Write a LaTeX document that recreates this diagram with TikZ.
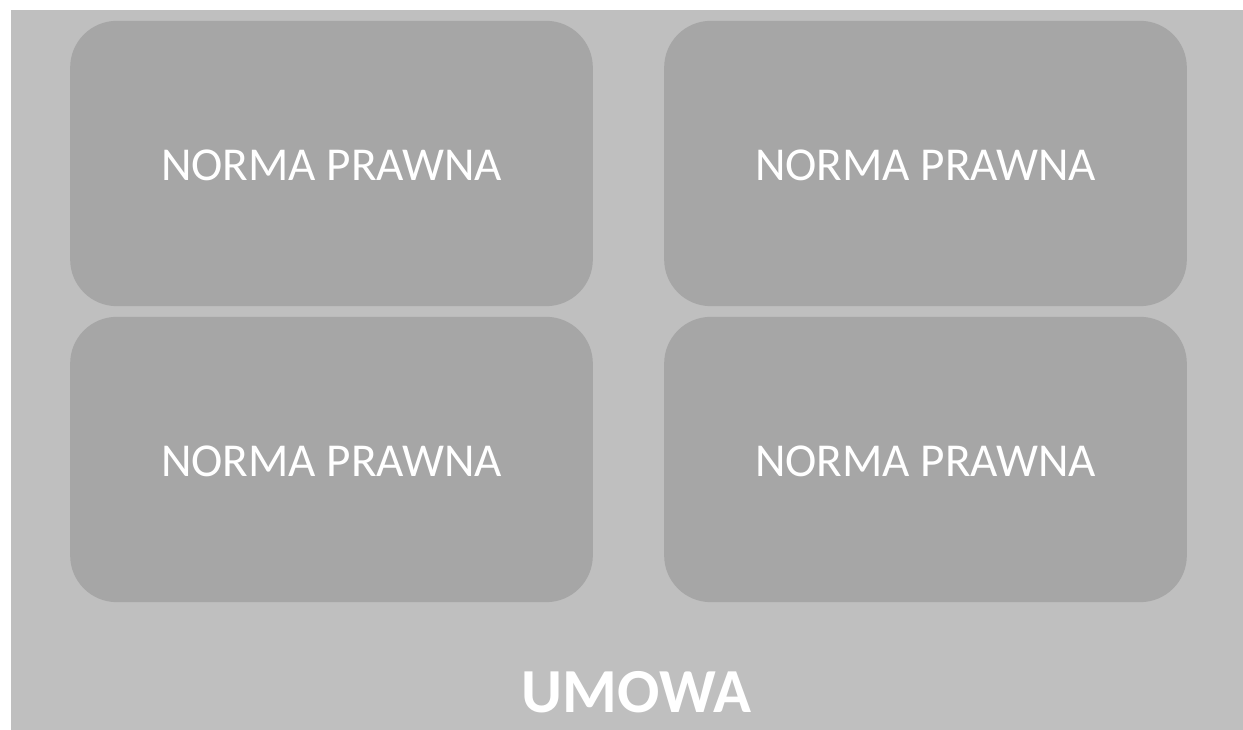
\documentclass[tikz,border=0pt]{standalone}
\usepackage{fontspec}
\setmainfont{Carlito}
\definecolor{outergray}{HTML}{BFBFBF}
\definecolor{innergray}{HTML}{A6A6A6}

\begin{document}
\begin{tikzpicture}[x=0.75pt,y=-0.75pt,
    norma/.style={fill=innergray, rounded corners=35pt, minimum width=392pt,
      minimum height=214pt, inner sep=0pt, text=white, text height=25pt, text depth=0pt,
      font=\fontsize{35.4}{40}\selectfont}]
    \useasboundingbox (0,0) rectangle (1243,730);
    \fill[outergray] (11,10) rectangle (1243,730);

    \node[norma] (n1) at (331.5,163.5) {NORMA PRAWNA};
    \node[norma] (n2) at (925.5,163.5) {NORMA PRAWNA};
    \node[norma] (n3) at (331.5,459.5) {NORMA PRAWNA};
    \node[norma] (n4) at (925.5,459.5) {NORMA PRAWNA};

    \node[text=white, font=\fontsize{47}{50}\selectfont\bfseries] (umowa) at (636.5,692) {UMOWA};
\end{tikzpicture}
\end{document}
